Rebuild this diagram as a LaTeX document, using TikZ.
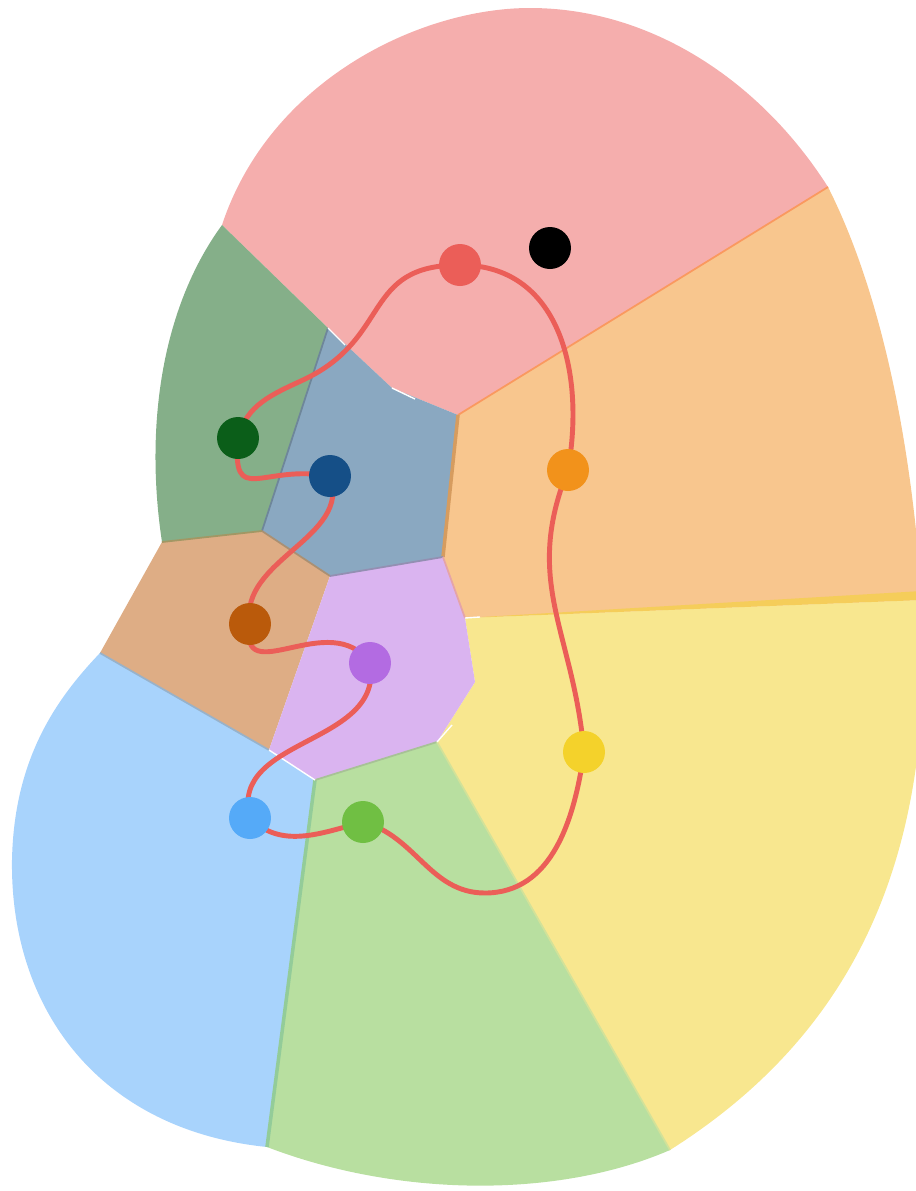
\documentclass[tikz,border=0pt]{standalone}
\usepackage{tikz}

% colores de las celdas
\definecolor{rosa}{HTML}{F5AEAD}
\definecolor{naranja}{HTML}{F8C68E}
\definecolor{amarillo}{HTML}{F8E78F}
\definecolor{amarillooscuro}{HTML}{F5CD5A}
\definecolor{verde}{HTML}{B8DFA0}
\definecolor{celeste}{HTML}{A8D3FC}
\definecolor{marron}{HTML}{DEAD85}
\definecolor{musgo}{HTML}{85AF89}
\definecolor{azulgris}{HTML}{8AA8C1}
\definecolor{lila}{HTML}{DAB4F0}
% colores de los puntos
\definecolor{dRojo}{HTML}{EB5E58}
\definecolor{dNaranja}{HTML}{F2921B}
\definecolor{dAmarillo}{HTML}{F4D22B}
\definecolor{dVerde}{HTML}{70BF43}
\definecolor{dCeleste}{HTML}{55AAF8}
\definecolor{dLila}{HTML}{B36BE2}
\definecolor{dMarron}{HTML}{BA5A0B}
\definecolor{dAzul}{HTML}{154F87}
\definecolor{dMusgo}{HTML}{0B5E19}

\begin{document}
\begin{tikzpicture}[x=0.02cm, y=-0.02cm,
    lazo/.style={line width=2.8pt, color=dRojo},
    arista/.style={line width=1pt}]
            \useasboundingbox (0,0) rectangle (916,1191);
            \clip (0,0) rectangle (916,1191);

            % Vértices del borde exterior
            \coordinate (A) at (222,225);
            \coordinate (B) at (828,187);
            \coordinate (C) at (922,600);
            \coordinate (D) at (670,1150);
            \coordinate (E) at (267,1147);
            \coordinate (F) at (100,653);
            \coordinate (G) at (162,542);

            % Vértices interiores
            \coordinate (v1) at (328,328);
            \coordinate (v2) at (392,388);
            \coordinate (v3) at (458,415);
            \coordinate (v4) at (443,557);
            \coordinate (v5) at (465,618);
            \coordinate (v6) at (475,682);
            \coordinate (v7) at (437,742);
            \coordinate (v8) at (315,780);
            \coordinate (v9) at (269,750);
            \coordinate (v10) at (330,576);
            \coordinate (v11) at (262,531);

            % Celdas exteriores
            \fill[rosa] (A) .. controls (270,80) and (420,8) .. (530,8)
                .. controls (650,8) and (760,80) .. (B) -- (v3) -- (v2) -- (v1) -- cycle;
            \fill[naranja] (B) .. controls (875,280) and (910,420) .. (C) -- (v5) -- (v4) -- (v3) -- cycle;
            \fill[amarillo] (C) .. controls (935,850) and (860,1030) .. (D) -- (v7) -- (v6) -- (v5) -- cycle;
            \fill[verde] (D) .. controls (560,1198) and (400,1198) .. (E) -- (v8) -- (v7) -- cycle;
            \fill[celeste] (E) .. controls (100,1130) and (10,1010) .. (12,860)
                .. controls (14,760) and (55,700) .. (F) -- (v9) -- (v8) -- cycle;
            \fill[marron] (F) -- (G) -- (v11) -- (v10) -- (v9) -- cycle;
            \fill[musgo] (G) .. controls (145,430) and (160,310) .. (A) -- (v1) -- (v11) -- cycle;

            % Celdas interiores
            \fill[azulgris] (v1) -- (v2) -- (v3) -- (v4) -- (v10) -- (v11) -- cycle;
            \fill[lila] (v10) -- (v4) -- (v5) -- (v6) -- (v7) -- (v8) -- (v9) -- cycle;

            % Aristas
            \fill[amarillooscuro] (v5) -- (922,591) -- (C) -- cycle;
            \draw[arista, color=orange!45!rosa] (v3) -- (B);
            \draw[arista, line width=2pt, color=brown!60!naranja] (v3) -- (v4);
            \draw[arista, color=azulgris!80!black] (v1) -- (v11);
            \draw[arista, color=brown!50!musgo] (G) -- (v11);
            \draw[arista, color=brown!60!azulgris] (v11) -- (v10);
            \draw[arista, color=lila!70!black!60!azulgris] (v10) -- (v4);
            \draw[arista, color=orange!30!lila] (v4) -- (v5);
            \draw[arista, line width=2pt, color=verde!80!teal] (v8) -- (E);
            \draw[arista, color=verde!70!gray] (v8) -- (v7);
            \draw[arista, color=celeste!60!gray] (F) -- (v9);
            \draw[arista, color=verde!60!amarillo] (v7) -- (D);
            \draw[white, line width=0.8pt] (v1) -- (345,345) (v2) -- (415,399);
            \draw[white, line width=0.8pt] (v7) -- (452,725) (v9) -- (v8) (v5) -- (480,617);

            % Puntos
            \coordinate (rojo) at (460,265);
            \coordinate (negro) at (550,248);
            \coordinate (naranja) at (568,470);
            \coordinate (amarillo) at (584,752);
            \coordinate (verde) at (363,822);
            \coordinate (celeste) at (250,818);
            \coordinate (lila) at (370,663);
            \coordinate (marron) at (250,624);
            \coordinate (azul) at (330,476);
            \coordinate (musgo) at (238,438);
            % puntos de paso del lazo
            \coordinate (codo) at (303,380);
            \coordinate (fondo) at (485,893);

            % Lazo cerrado
            \draw[lazo] (rojo) to[out=0, in=80, looseness=1.1] (naranja)
                to[out=-112, in=95, looseness=1.1] (amarillo)
                to[out=-98, in=0] (fondo)
                to[out=180, in=-15] (verde)
                to[out=195, in=-45] (celeste)
                to[out=105, in=-80, looseness=1.1] (lila)
                to[out=125, in=-100, looseness=1.4] (marron)
                to[out=100, in=-70] (azul)
                to[out=170, in=-95, looseness=1.8] (musgo)
                to[out=76, in=205] (codo)
                to[out=25, in=180, looseness=1.3] (rojo);

            \fill[dRojo] (rojo) circle (0.42cm);
            \fill[black] (negro) circle (0.42cm);
            \fill[dNaranja] (naranja) circle (0.42cm);
            \fill[dAmarillo] (amarillo) circle (0.42cm);
            \fill[dVerde] (verde) circle (0.42cm);
            \fill[dCeleste] (celeste) circle (0.42cm);
            \fill[dLila] (lila) circle (0.42cm);
            \fill[dMarron] (marron) circle (0.42cm);
            \fill[dAzul] (azul) circle (0.42cm);
            \fill[dMusgo] (musgo) circle (0.42cm);
        \end{tikzpicture}
\end{document}
